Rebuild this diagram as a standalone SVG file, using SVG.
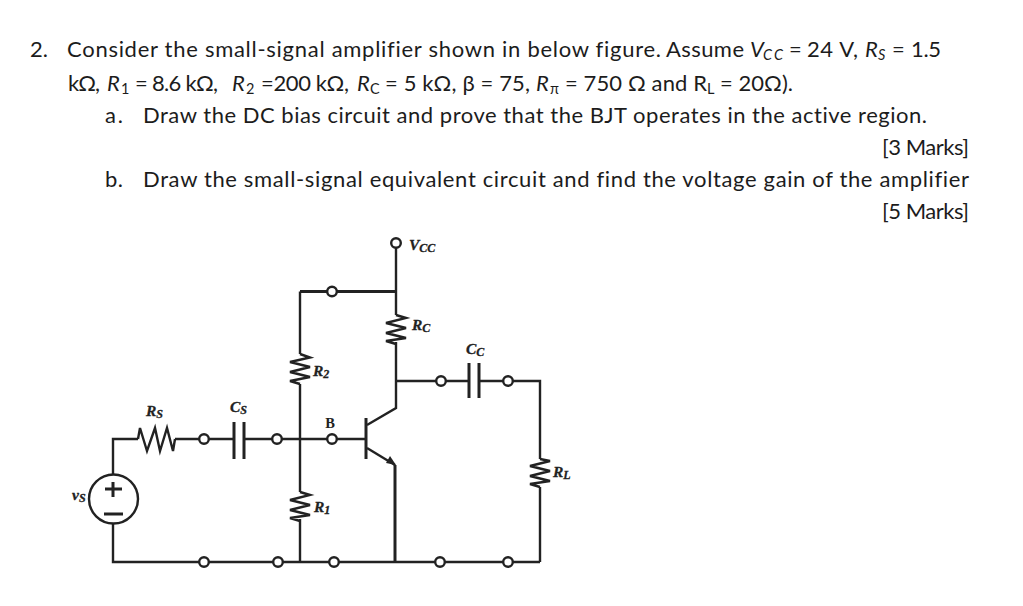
<svg xmlns="http://www.w3.org/2000/svg" width="1023" height="606" viewBox="0 0 1023 606">
<style>
text{font-variant-ligatures:none}
.t{font-family:Lato,"Liberation Sans",sans-serif;font-size:22px;fill:#1c1c1c}
.i{font-style:italic}
.s{font-size:14.500px}
.l{font-family:"Liberation Serif",serif;font-style:italic;font-weight:bold;font-size:15.500px;fill:#222;stroke:#222;stroke-width:.3}
.u{font-size:12px}
.w{fill:none;stroke:#222;stroke-width:2.4;stroke-linejoin:miter}
.h{stroke-width:3}
.term{fill:#fff;stroke:#222;stroke-width:2.4}
</style>
<rect width="1023" height="606" fill="#fff"/>
<g id="question">
<text class="t" x="30" y="57" textLength="18">2.</text>
<text class="t" x="67" y="57" textLength="594">Consider the small-signal amplifier shown in below figure.</text>
<text class="t" x="666" y="57" textLength="78">Assume</text>
<text class="t i" x="750" y="57">V</text>
<text class="t i s" x="763" y="60" textLength="20">CC</text>
<text class="t" x="789" y="57">=</text>
<text class="t" x="807" y="57" textLength="51">24 V,</text>
<text class="t i" x="865" y="57">R</text>
<text class="t i s" x="878" y="60">S</text>
<text class="t" x="892" y="57">=</text>
<text class="t" x="911" y="57" textLength="30">1.5</text>

<text class="t" x="68" y="91" textLength="32">kΩ,</text>
<text class="t i" x="107" y="91">R</text>
<text class="t s" x="121" y="94">1</text>
<text class="t" x="135" y="91" textLength="83">= 8.6 kΩ,</text>
<text class="t i" x="232" y="91">R</text>
<text class="t s" x="246" y="94">2</text>
<text class="t" x="261" y="91" textLength="88">=200 kΩ,</text>
<text class="t i" x="357" y="91">R</text>
<text class="t s" x="370" y="94" textLength="9">C</text>
<text class="t" x="385" y="91" textLength="145">= 5 kΩ, β = 75,</text>
<text class="t i" x="536" y="91">R</text>
<text class="t s" x="550" y="94">π</text>
<text class="t" x="565" y="91" textLength="142">= 750 Ω and R</text>
<text class="t s" x="707" y="94">L</text>
<text class="t" x="720" y="91" textLength="73">= 20Ω).</text>

<text class="t" x="105" y="123" textLength="18">a.</text>
<text class="t" x="143" y="123" textLength="784">Draw the DC bias circuit and prove that the BJT operates in the active region.</text>
<text class="t" x="882" y="155" textLength="87">[3 Marks]</text>
<text class="t" x="105" y="187" textLength="18">b.</text>
<text class="t" x="143" y="187" textLength="826">Draw the small-signal equivalent circuit and find the voltage gain of the amplifier</text>
<text class="t" x="882" y="219" textLength="87">[5 Marks]</text>
</g>
<g id="connectors" class="w">
<path class="w" d="M396 248V315M396 342V408L367 425"/>
<path class="w h" d="M300 291.500H396"/>
<path class="w" d="M300 291.500V354M300 384V492M300 519V562"/>
<path class="w" d="M113 474V439H138M175 439H234M244 439H366"/>
<path class="w" d="M396 381H469M479 381H540V459M540 487V562"/>
<path class="w" d="M113 524V562H540"/>
<path class="w" d="M367 448L395 465"/>
<path class="w h" d="M395 465V562"/>
</g>
<g id="Vcc"><circle class="term" cx="396" cy="243" r="4.800"/><text class="l" x="409" y="250">V<tspan class="u" dy="2">CC</tspan></text></g>
<g id="T1"><circle class="term" cx="332" cy="291.500" r="4.800"/></g>
<g id="R2"><path class="w" d="M300 354L310 357.500L290 362L310 367L290 372L310 377L290 381L300 384"/><text class="l" x="313" y="376">R<tspan class="u" dy="2">2</tspan></text></g>
<g id="Rc"><path class="w" d="M396 315L406 318L386 323L406 328L386 333L406 338L386 341L396 344"/><text class="l" x="412" y="330">R<tspan class="u" dy="2">C</tspan></text></g>
<g id="Cc"><path class="w h" d="M469 363V398M479 363V398"/><text class="l" x="466" y="354">C<tspan class="u" dy="2">C</tspan></text></g>
<g id="T2"><circle class="term" cx="441" cy="381" r="4.800"/></g>
<g id="T3"><circle class="term" cx="508" cy="381" r="4.800"/></g>
<g id="RL"><path class="w" d="M540 459L550 461L530 466L550 471L530 476L550 481L530 484L540 487"/><text class="l" x="553" y="477">R<tspan class="u" dy="2">L</tspan></text></g>
<g id="Rs"><path class="w" d="M138 439L140 428L147 451L155 428L160 451L167 428L173 451L175 439"/><text class="l" x="146" y="416">R<tspan class="u" dy="2">S</tspan></text></g>
<g id="Cs"><path class="w h" d="M234 422V459M244 422V459"/><text class="l" x="230" y="412">C<tspan class="u" dy="2">S</tspan></text></g>
<g id="T4"><circle class="term" cx="204" cy="439" r="4.800"/></g>
<g id="T5"><circle class="term" cx="277" cy="439" r="4.800"/></g>
<g id="B"><circle class="term" cx="332" cy="439" r="4.800"/><text x="330" y="428" text-anchor="middle" font-family="Liberation Serif,serif" font-weight="bold" font-size="14.500" fill="#222">B</text></g>
<g id="BJT"><path class="w h" d="M366 418V459"/><path d="M396 465L386 463L390 456Z" fill="#222"/></g>
<g id="R1"><path class="w" d="M300 492L310 495L290 500L310 505L290 510L310 515L290 518L300 521"/><text class="l" x="314" y="512">R<tspan class="u" dy="2">1</tspan></text></g>
<g id="vs"><circle class="w" cx="113.500" cy="499" r="24.500" fill="#fff"/><path class="w h" d="M113 482V497M105 489H122M104 514H123"/><text class="l" x="72" y="500">v<tspan class="u" dy="2">S</tspan></text></g>
<g id="T6"><circle class="term" cx="204" cy="562" r="4.800"/></g>
<g id="T7"><circle class="term" cx="278" cy="562" r="4.800"/></g>
<g id="T8"><circle class="term" cx="334" cy="562" r="4.800"/></g>
<g id="T9"><circle class="term" cx="440" cy="562" r="4.800"/></g>
<g id="T10"><circle class="term" cx="508" cy="562" r="4.800"/></g>
</svg>
